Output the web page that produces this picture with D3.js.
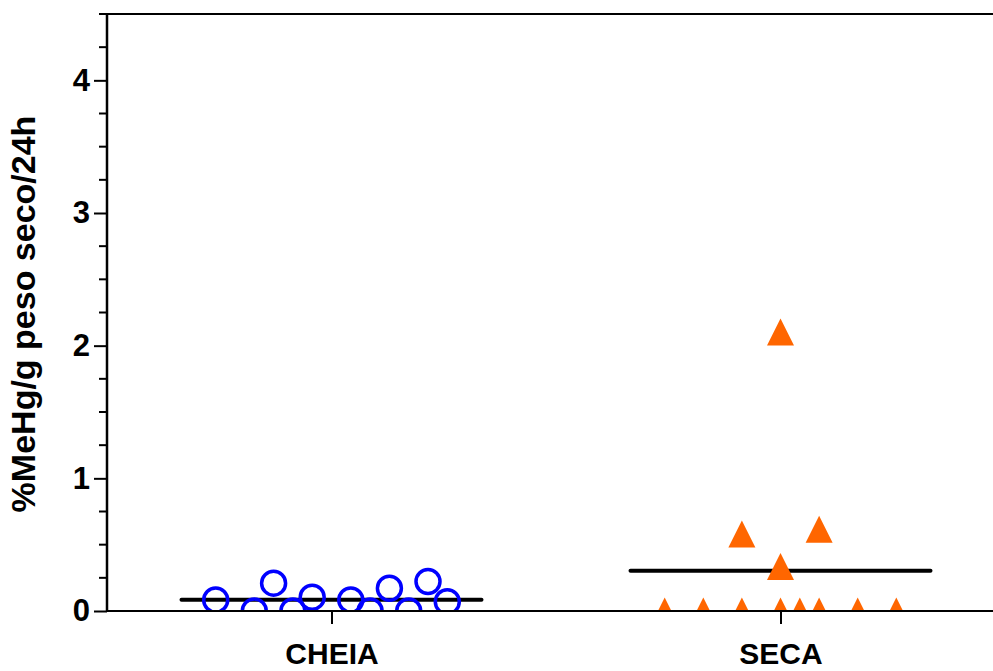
<!DOCTYPE html>
<html>
<head>
<meta charset="utf-8">
<script src="https://cdn.jsdelivr.net/npm/d3@7"></script>
<style>
  body { margin: 0; background: #fff; }
  svg text { font-family: "Liberation Sans", Arial, sans-serif; font-weight: bold; fill: #000; }
</style>
</head>
<body>
<div id="vis"></div>
<script>
// data
const categories = ["CHEIA", "SECA"];
const cheiaValues = [0.083, 0, 0.21, 0, 0.103, 0.083, 0, 0.171, 0, 0.222, 0.07];
const cheiaSlots  = [-6, -4, -3, -2, -1, 1, 2, 3, 4, 5, 6];
const secaValues  = [0, 0, 0, 0, 0, 0, 0, 0, 0.58, 0.616, 0.335, 2.103];
const secaSlots   = [-6, -4, -2, 0, 1, 2, 4, 6, -2, 2, 0, 0];
const majorTicks = [0, 1, 2, 3, 4];
const yTitle = "%MeHg/g peso seco/24h";

const W = 993, H = 671;
const plotLeft = 107, plotTop = 14, plotBottom = 611;

const svg = d3.select('#vis')
  .append('svg')
  .attr('width', W)
  .attr('height', H);

const x = d3.scalePoint()
  .domain(categories)
  .range([plotLeft, 1005])
  .padding(0.5);

const y = d3.scaleLinear()
  .domain([0, 4.5])
  .range([plotBottom, plotTop]);

// jitter slots -> pixel offsets
const jitter = d3.scaleLinear().domain([0, 1]).range([0, 19.3]);

const groups = [
  { cat: "CHEIA", values: cheiaValues, slots: cheiaSlots },
  { cat: "SECA", values: secaValues, slots: secaSlots }
];

svg.append('defs').append('clipPath')
  .attr('id', 'plotClip')
  .append('rect')
  .attr('x', plotLeft)
  .attr('y', 0)
  .attr('width', W - plotLeft)
  .attr('height', plotBottom);

const plot = svg.append('g').attr('clip-path', 'url(#plotClip)');

// mean lines
plot.selectAll('.mean')
  .data(groups)
  .join('line')
  .attr('class', 'mean')
  .attr('x1', d => x(d.cat) - 150)
  .attr('x2', d => x(d.cat) + 150)
  .attr('y1', d => y(d3.mean(d.values)))
  .attr('y2', d => y(d3.mean(d.values)))
  .attr('stroke', '#000')
  .attr('stroke-width', 4)
  .attr('stroke-linecap', 'round');

// CHEIA: open blue circles
plot.selectAll('.cheia')
  .data(cheiaValues)
  .join('circle')
  .attr('class', 'cheia')
  .attr('cx', (d, i) => x("CHEIA") + jitter(cheiaSlots[i]))
  .attr('cy', d => y(d))
  .attr('r', 12)
  .attr('fill', 'none')
  .attr('stroke', '#0000ff')
  .attr('stroke-width', 3.5);

// SECA: orange triangles (as tall as they are wide, centred on the value)
const prismTriangle = {
  draw(context, size) {
    const h = Math.sqrt(size) / 2;
    context.moveTo(0, -h);
    context.lineTo(h, h);
    context.lineTo(-h, h);
    context.closePath();
  }
};
const tri = d3.symbol().type(prismTriangle).size(27 * 27);
plot.selectAll('.seca')
  .data(secaValues)
  .join('path')
  .attr('class', 'seca')
  .attr('d', tri)
  .attr('transform', (d, i) => `translate(${x("SECA") + jitter(secaSlots[i])},${y(d)})`)
  .attr('fill', '#ff6600');

// y axis
const minorTicks = d3.range(0, 4.51, 0.25).filter(v => !majorTicks.includes(v));

const yAxisG = svg.append('g')
  .attr('transform', `translate(${plotLeft},0)`)
  .call(d3.axisLeft(y).tickValues(majorTicks).tickSize(13).tickPadding(4).tickFormat(d3.format('d')));

yAxisG.select('.domain').remove();
yAxisG.selectAll('.tick line').attr('stroke-width', 2);
yAxisG.selectAll('.tick text').style('font-size', '31px');

svg.append('g')
  .selectAll('line')
  .data(minorTicks)
  .join('line')
  .attr('x1', plotLeft - 8)
  .attr('x2', plotLeft)
  .attr('y1', d => y(d))
  .attr('y2', d => y(d))
  .attr('stroke', '#000')
  .attr('stroke-width', 2);

// frame lines
svg.append('line')
  .attr('x1', plotLeft).attr('x2', plotLeft)
  .attr('y1', plotTop).attr('y2', plotBottom)
  .attr('stroke', '#000').attr('stroke-width', 2.5);

svg.append('line')
  .attr('x1', plotLeft).attr('x2', W)
  .attr('y1', plotTop).attr('y2', plotTop)
  .attr('stroke', '#000').attr('stroke-width', 2);

// x axis
const xAxisG = svg.append('g')
  .attr('transform', `translate(0,${plotBottom})`)
  .call(d3.axisBottom(x).tickSize(13).tickPadding(19));

xAxisG.select('.domain').remove();
xAxisG.selectAll('.tick line').attr('stroke-width', 2);
xAxisG.selectAll('.tick text').style('font-size', '30px');

svg.append('line')
  .attr('x1', plotLeft).attr('x2', W)
  .attr('y1', plotBottom).attr('y2', plotBottom)
  .attr('stroke', '#000').attr('stroke-width', 2);

// y title
svg.append('text')
  .attr('transform', `translate(35,314) rotate(-90)`)
  .attr('text-anchor', 'middle')
  .style('font-size', '34px')
  .text(yTitle);
</script>
</body>
</html>
